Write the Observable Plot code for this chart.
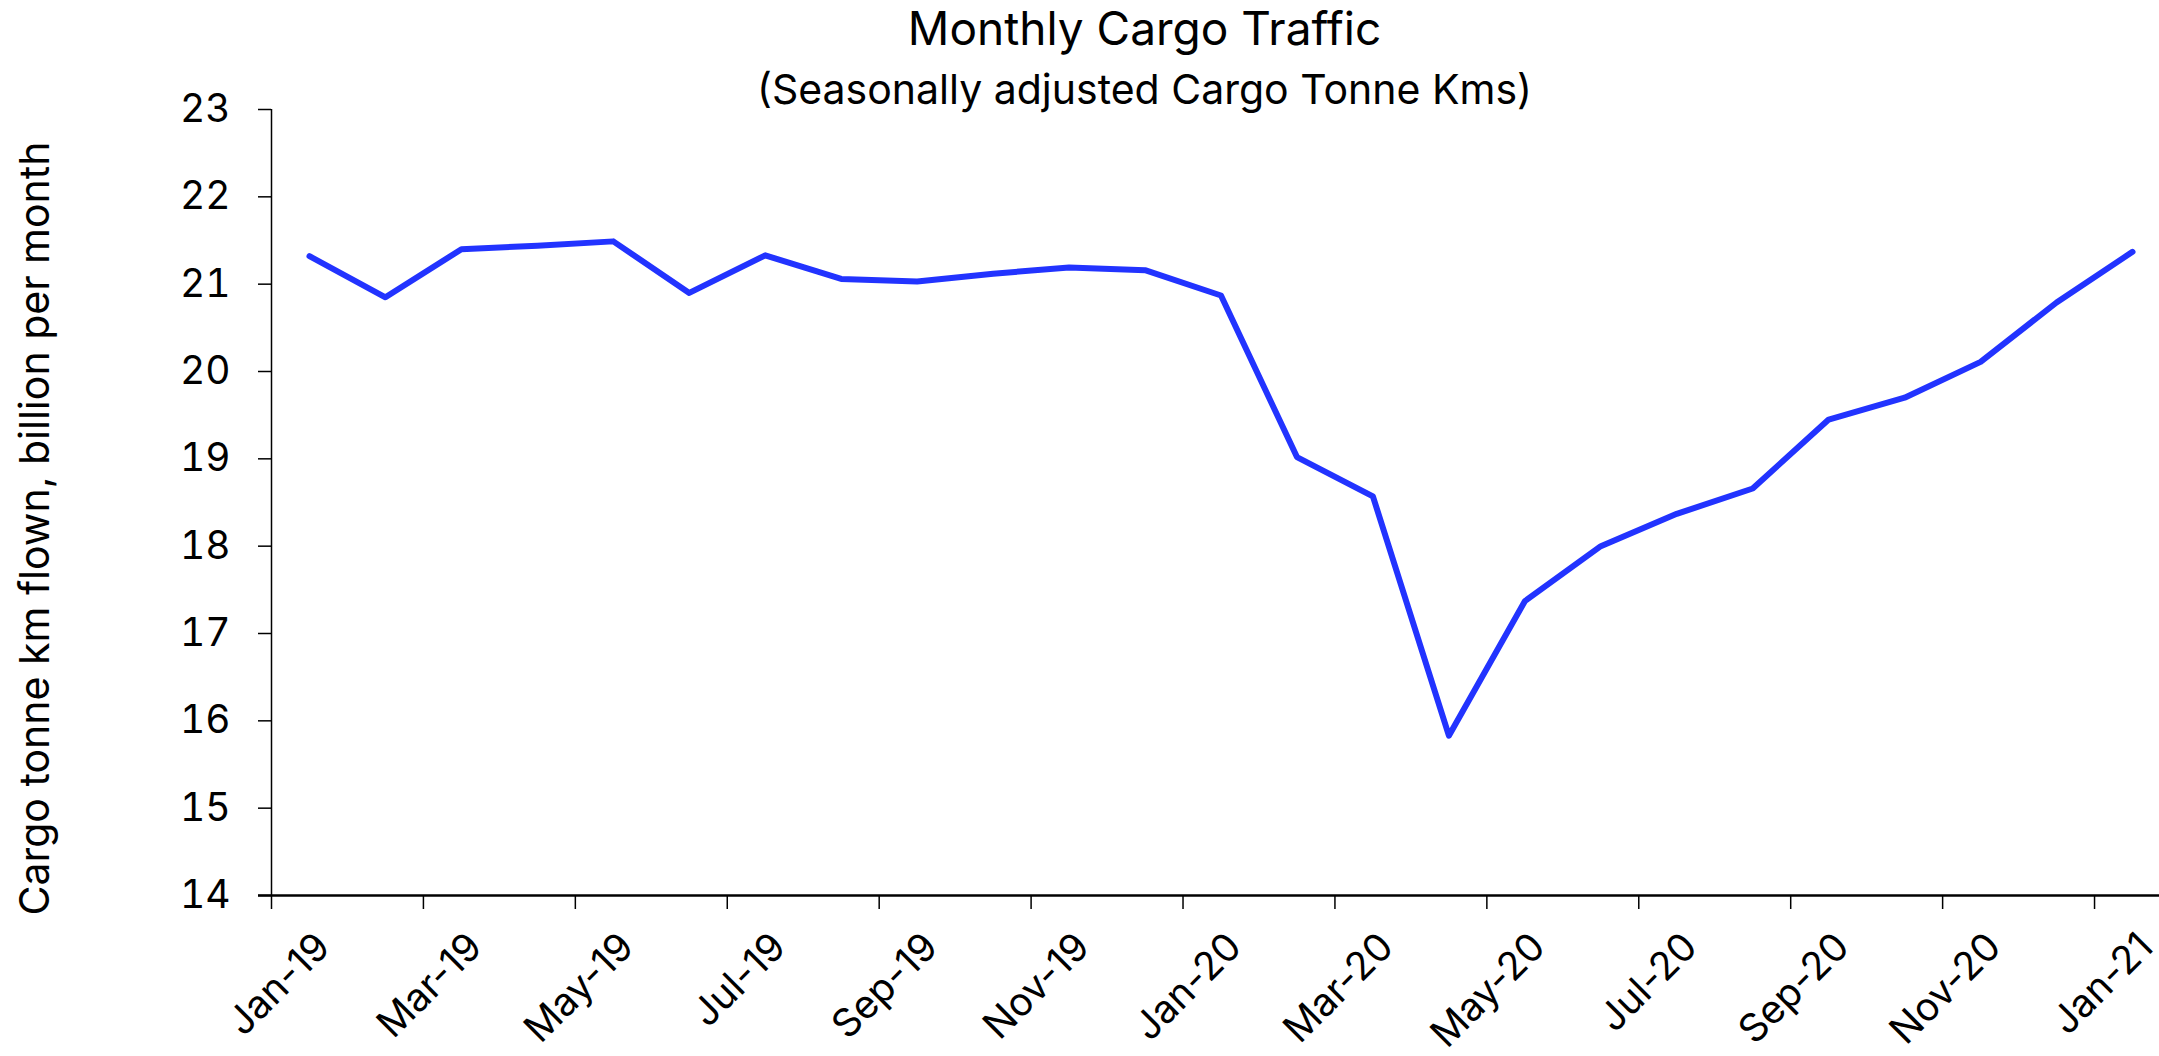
<!DOCTYPE html>
<html>
<head>
<meta charset="utf-8">
<script src="https://cdn.jsdelivr.net/npm/d3@7"></script>
<script src="https://cdn.jsdelivr.net/npm/@observablehq/plot@0.6"></script>
<style>
  html, body { margin: 0; padding: 0; background: #fff; }
  body { width: 2159px; height: 1056px; overflow: hidden; font-family: Inter, "Liberation Sans", Arial, sans-serif; color: #000; }
  #head { position: relative; height: 80px; width: 2159px; }
  #title { position: absolute; left: 0; width: 2159px; top: 0; line-height: 56px; font-size: 46px; text-align: center; padding-left: 130px; box-sizing: border-box; }
  #subtitle { position: absolute; left: 0; width: 2159px; top: 64px; line-height: 50px; font-size: 41px; text-align: center; padding-left: 130px; box-sizing: border-box; }
  #chart svg { display: block; overflow: visible; }
</style>
</head>
<body>
<div id="head">
  <div id="title">Monthly Cargo Traffic</div>
  <div id="subtitle">(Seasonally adjusted Cargo Tonne Kms)</div>
</div>
<div id="chart"></div>
<script>
// Months (one category per data point)
const months = ["Jan-19","Feb-19","Mar-19","Apr-19","May-19","Jun-19","Jul-19","Aug-19","Sep-19","Oct-19","Nov-19","Dec-19",
                "Jan-20","Feb-20","Mar-20","Apr-20","May-20","Jun-20","Jul-20","Aug-20","Sep-20","Oct-20","Nov-20","Dec-20",
                "Jan-21"];
// Seasonally adjusted cargo tonne km, billion per month
const cargoValues = [21.32, 20.85, 21.40, 21.44, 21.49, 20.90, 21.33, 21.06, 21.03, 21.12, 21.19, 21.16,
                     20.87, 19.02, 18.57, 15.83, 17.37, 18.00, 18.37, 18.66, 19.45, 19.70, 20.11, 20.79,
                     21.37];
// Tick labels shown on the x axis (every other month)
const xTickLabels = ["Jan-19","Mar-19","May-19","Jul-19","Sep-19","Nov-19","Jan-20","Mar-20","May-20","Jul-20","Sep-20","Nov-20","Jan-21"];
const yTicks = [14, 15, 16, 17, 18, 19, 20, 21, 22, 23];
const yTitle = "Cargo tonne km flown, billion per month";

const data = months.map((m, i) => ({month: m, idx: i, value: cargoValues[i]}));
const tickIdx = xTickLabels.map(l => months.indexOf(l));
const labelOf = new Map(tickIdx.map((k, j) => [k, xTickLabels[j]]));

const font = "Inter, Liberation Sans, Arial, sans-serif";

const chart = Plot.plot({
  width: 2159,
  height: 976,
  marginTop: 29,
  marginBottom: 161,
  marginLeft: 271,
  marginRight: 0,
  style: {fontFamily: font, color: "#000", background: "#fff"},
  x: {domain: [0, 25], range: [271, 2170]},
  y: {domain: [14, 23]},
  marks: [
    Plot.axisY({ticks: yTicks, tickSize: 13, tickPadding: 28, fontSize: 39, label: null, strokeWidth: 1.5}),
    Plot.axisX({ticks: tickIdx, tickSize: 14, tickFormat: () => "", label: null, strokeWidth: 1.5}),
    Plot.text(tickIdx, {x: d => d, text: d => labelOf.get(d), frameAnchor: "bottom", rotate: -45,
      textAnchor: "end", lineAnchor: "top", dx: 41, dy: 34, fontSize: 39, fill: "#000"}),
    Plot.text([yTitle], {text: d => d, frameAnchor: "left", rotate: -90, textAnchor: "middle", lineAnchor: "middle",
      dx: -236, dy: 26, fontSize: 41, fill: "#000"}),
    Plot.ruleX([0], {stroke: "#000", strokeWidth: 1.5}),
    Plot.ruleY([14], {stroke: "#000", strokeWidth: 2.5, insetLeft: -13}),
    Plot.line(data, {x: d => d.idx + 0.5, y: "value", stroke: "#2233ff", strokeWidth: 6,
      strokeLinejoin: "round", strokeLinecap: "round"})
  ]
});
document.getElementById("chart").appendChild(chart);
</script>
</body>
</html>
